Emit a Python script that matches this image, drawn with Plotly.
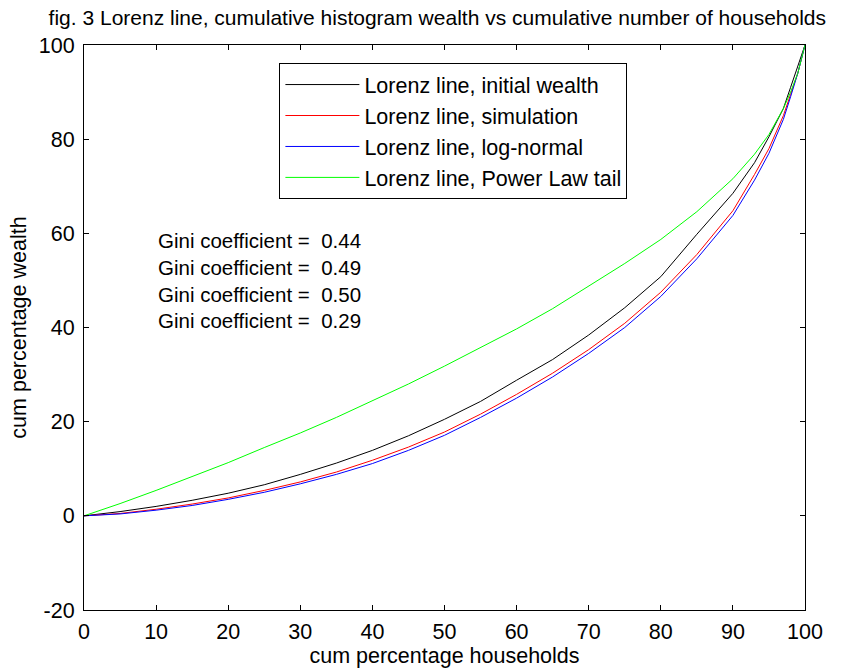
import plotly.graph_objects as go

# cumulative percentage of households
x_pct = [0, 5, 10, 15, 20, 25, 30, 35, 40, 45, 50, 55, 60, 65, 70, 75, 80, 85, 90, 93, 95, 97, 98, 99, 100]

# cumulative percentage of wealth
initial_wealth = [0, 0.9, 2.0, 3.3, 4.8, 6.6, 8.8, 11.2, 13.9, 17.0, 20.5, 24.3, 28.8, 33.2, 38.4, 44.2, 50.8, 59.8, 68.5, 75.0, 80.5, 86.5, 91.0, 95.5, 100]
simulation = [0, 0.5, 1.4, 2.5, 3.8, 5.4, 7.2, 9.3, 11.8, 14.6, 17.8, 21.6, 25.8, 30.3, 35.3, 40.9, 47.5, 55.5, 64.8, 72.5, 78.0, 85.0, 89.5, 94.0, 100]
log_normal = [0, 0.4, 1.2, 2.2, 3.5, 5.0, 6.8, 8.8, 11.1, 13.9, 17.1, 20.9, 25.0, 29.5, 34.5, 40.0, 46.6, 54.6, 63.8, 71.3, 77.0, 84.2, 89.0, 94.0, 100]
power_law_tail = [0, 2.6, 5.4, 8.3, 11.3, 14.5, 17.6, 20.9, 24.5, 28.0, 31.8, 35.7, 39.7, 44.0, 48.8, 53.6, 58.7, 64.6, 71.6, 76.8, 81.0, 86.5, 90.0, 94.0, 100]

series_names = ["Lorenz line, initial wealth", "Lorenz line, simulation",
                "Lorenz line, log-normal", "Lorenz line, Power Law tail"]
series_values = [initial_wealth, simulation, log_normal, power_law_tail]
series_colors = ["#000000", "#ff0000", "#0000ff", "#00ff00"]

gini_values = ["0.44", "0.49", "0.50", "0.29"]
gini_y = [58.4, 52.7, 47.0, 41.4]

x_ticks = [0, 10, 20, 30, 40, 50, 60, 70, 80, 90, 100]
y_ticks = [-20, 0, 20, 40, 60, 80, 100]

FONT = "Liberation Sans, Arial, Helvetica, sans-serif"
FS = 21.5

fig = go.Figure()
for i, (name, vals, col) in enumerate(zip(series_names, series_values, series_colors)):
    fig.add_trace(go.Scatter(x=x_pct, y=vals, mode="lines", name=name,
                             legendgroup=f"g{i}",
                             line=dict(color=col, width=1)))

for g, gy in zip(gini_values, gini_y):
    fig.add_annotation(x=10, y=gy, xref="x", yref="y", text=f"Gini coefficient =  {g}",
                       showarrow=False, xanchor="left", yanchor="middle",
                       font=dict(family=FONT, size=20.5, color="black"))

axis_common = dict(showline=True, linecolor="black", linewidth=1, mirror="ticks",
                   ticks="inside", ticklen=5, tickcolor="black", tickwidth=1,
                   showgrid=False, zeroline=False, automargin=False,
                   tickfont=dict(family=FONT, size=FS, color="black"))

fig.update_xaxes(range=[0, 100], tickvals=x_ticks, ticktext=[str(v) for v in x_ticks],
                 ticklabelstandoff=2,
                 title=dict(text="cum percentage households", standoff=0,
                            font=dict(family=FONT, size=FS, color="black")),
                 **axis_common)
fig.update_yaxes(range=[-20, 100], tickvals=y_ticks, ticktext=[str(v) for v in y_ticks],
                 ticklabelstandoff=4,
                 title=dict(text="cum percentage wealth", standoff=6,
                            font=dict(family=FONT, size=FS, color="black")),
                 **axis_common)

fig.update_layout(
    width=841, height=672,
    margin=dict(l=84, r=36, t=45, b=62),
    paper_bgcolor="white", plot_bgcolor="white",
    title=dict(text="fig. 3 Lorenz line, cumulative histogram wealth vs cumulative number of households",
               x=0.52, xanchor="center", y=0.973, yanchor="middle",
               font=dict(family=FONT, size=21, color="black")),
    legend=dict(x=0.271, y=0.968, xanchor="left", yanchor="top",
                bordercolor="black", borderwidth=1, bgcolor="white",
                font=dict(family=FONT, size=FS, color="black"),
                tracegroupgap=0, itemwidth=74),
    showlegend=True,
)

fig.write_html("out.html")
